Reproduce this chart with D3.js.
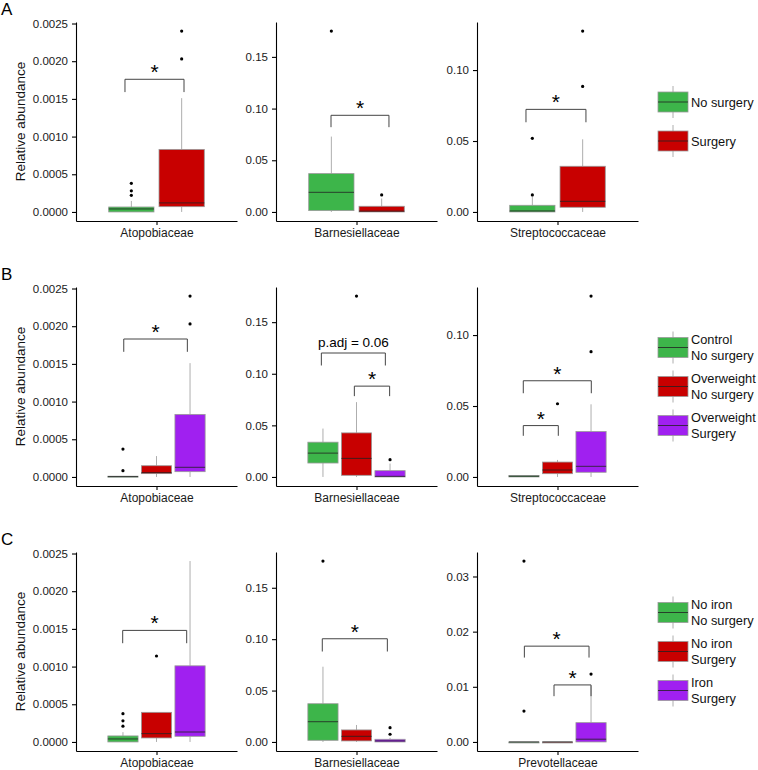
<!DOCTYPE html>
<html>
<head>
<meta charset="utf-8">
<script src="https://cdn.jsdelivr.net/npm/d3@7"></script>
<style>
  body { margin: 0; background: #fff; }
  svg { display: block; font-family: "Liberation Sans", Arial, sans-serif; }
  .axis path, .axis line { stroke: #000; stroke-width: 1.1px; }
  .axis text { fill: #1a1a1a; font-size: 11.5px; }
  .whisker, .box { stroke: #999; stroke-width: 0.8px; }
  .median { stroke: #222; stroke-opacity: 0.8; stroke-width: 1px; }
  .bracket { fill: none; stroke: #444; stroke-width: 1px; }
</style>
</head>
<body>
<svg id="chart" width="758" height="770"></svg>
<script>
// ---- data ----
const panelLetters = ["A", "B", "C"];

const familiesA = ["Atopobiaceae", "Barnesiellaceae", "Streptococcaceae"];
const familiesB = ["Atopobiaceae", "Barnesiellaceae", "Streptococcaceae"];
const familiesC = ["Atopobiaceae", "Barnesiellaceae", "Prevotellaceae"];

const groupsA = [["No surgery"], ["Surgery"]];
const groupsB = [["Control", "No surgery"], ["Overweight", "No surgery"], ["Overweight", "Surgery"]];
const groupsC = [["No iron", "No surgery"], ["No iron", "Surgery"], ["Iron", "Surgery"]];

const colors = ["#3db54a", "#c80000", "#a020f0"];

// box stats per family, per group: [lower whisker, q1, median, q3, upper whisker]
const boxesA = [
  [[0, 0, 0.00004, 0.000066, 0.000146], [0, 0.00007, 0.00012, 0.00083, 0.00151]],
  [[0, 0.0013, 0.019, 0.0371, 0.0729], [0, 0, 0.0008, 0.0055, 0.013]],
  [[0, 0, 0.0007, 0.0047, 0.011], [0, 0.0033, 0.0075, 0.0322, 0.0512]]
];
const outliersA = [
  [[0.00022, 0.00028, 0.00038], [0.00203, 0.0024]],
  [[0.175], [0.0165]],
  [[0.012, 0.0519], [0.0885, 0.1275]]
];
// brackets: [x start, x end (category units), top y, end y, label]
const bracketsA = [
  [[0.765, 1.205, 0.00176, 0.00159, "*"]],
  [[0.81, 1.242, 0.0935, 0.082, "*"]],
  [[0.765, 1.212, 0.0723, 0.0632, "*"]]
];

const boxesB = [
  [[0, 0, 0.000005, 0.00001, 0.00001], [0, 0.000044, 0.000057, 0.000149, 0.000277], [0, 0.00007, 0.000128, 0.00083, 0.00151]],
  [[0, 0.0135, 0.0231, 0.0337, 0.0469], [0, 0.0016, 0.018, 0.0427, 0.0725], [0, 0, 0.0006, 0.0061, 0.013]],
  [[0, 0, 0.0005, 0.001, 0.001], [0, 0.0023, 0.0049, 0.0105, 0.012], [0, 0.0033, 0.0075, 0.032, 0.0512]]
];
const outliersB = [
  [[0.000083, 0.00037], [], [0.00203, 0.0024]],
  [[], [0.1753], [0.0167]],
  [[], [0.0516], [0.0883, 0.1275]]
];
const bracketsB = [
  [[0.756, 1.23, 0.00183, 0.00166, "*"]],
  [[0.738, 1.215, 0.1201, 0.108, "p.adj = 0.06"], [0.984, 1.247, 0.088, 0.0783, "*"]],
  [[0.745, 1.252, 0.0678, 0.059, "*"], [0.745, 1.006, 0.0362, 0.029, "*"]]
];

const boxesC = [
  [[0, 0, 0.00004, 0.00008, 0.00013], [0, 0.000053, 0.00011, 0.000393, 0.000393], [0, 0.000075, 0.000132, 0.00101, 0.0024]],
  [[0, 0.0016, 0.0197, 0.0372, 0.0732], [0, 0.001, 0.0055, 0.0117, 0.0165], [0, 0, 0.001, 0.0026, 0.004]],
  [[0, 0, 0, 0, 0], [0, 0, 0, 0, 0], [0, 0, 0.0005, 0.0035, 0.0102]]
];
const outliersC = [
  [[0.00021, 0.00028, 0.000375], [0.00114], []],
  [[0.176], [], [0.0075, 0.0139]],
  [[0.0056, 0.0328], [], [0.0123]]
];
const bracketsC = [
  [[0.748, 1.225, 0.00148, 0.00131, "*"]],
  [[0.745, 1.23, 0.1004, 0.088, "*"]],
  [[0.753, 1.235, 0.01737, 0.0153, "*"], [0.974, 1.25, 0.01034, 0.0083, "*"]]
];

const ticksAB = [[0, 0.0005, 0.001, 0.0015, 0.002, 0.0025], [0, 0.05, 0.1, 0.15], [0, 0.05, 0.1]];
const ticksC = [[0, 0.0005, 0.001, 0.0015, 0.002, 0.0025], [0, 0.05, 0.1, 0.15], [0, 0.01, 0.02, 0.03]];

const panels = [
  { families: familiesA, groups: groupsA, boxes: boxesA, outliers: outliersA, brackets: bracketsA, ticks: ticksAB },
  { families: familiesB, groups: groupsB, boxes: boxesB, outliers: outliersB, brackets: bracketsB, ticks: ticksAB },
  { families: familiesC, groups: groupsC, boxes: boxesC, outliers: outliersC, brackets: bracketsC, ticks: ticksC }
];

// ---- layout ----
const rowTop = [22, 287, 552];
const plotH = 199;
const plotLeft = [76, 276, 477];
const plotW = 161;

const svg = d3.select("#chart");

panels.forEach((p, r) => {
  const top = rowTop[r];
  const n = p.groups.length;
  const dodge = 0.75 / n;
  const bw = 0.9 * dodge;

  svg.append("text")
    .attr("x", 1)
    .attr("y", top - 7)
    .style("font-size", "17px")
    .text(panelLetters[r]);

  svg.append("text")
    .attr("transform", `translate(25,${top + plotH / 2}) rotate(-90)`)
    .attr("text-anchor", "middle")
    .style("font-size", "13.5px")
    .style("fill", "#111")
    .text("Relative abundance");

  p.families.forEach((fam, c) => {
    const left = plotLeft[c];
    const boxes = p.boxes[c];
    const outs = p.outliers[c];
    const maxV = d3.max([...boxes.map((b) => b[4]), ...outs.flat()]);
    const minV = d3.min(boxes.map((b) => b[0]));
    const pad = 0.05 * (maxV - minV);

    const x = d3.scaleLinear().domain([0.4, 1.6]).range([left, left + plotW]);
    const y = d3.scaleLinear().domain([minV - pad, maxV + pad]).range([top + plotH, top]);
    const fmt = maxV < 0.01 ? d3.format(".4f") : d3.format(".2f");

    const g = svg.append("g");

    g.append("g")
      .attr("class", "axis")
      .attr("transform", `translate(${left},0)`)
      .call(d3.axisLeft(y).tickValues(p.ticks[c]).tickFormat(fmt).tickSize(4).tickPadding(4).tickSizeOuter(0));

    g.append("g")
      .attr("class", "axis")
      .attr("transform", `translate(0,${top + plotH})`)
      .call(d3.axisBottom(x).tickValues([1]).tickFormat(() => fam).tickSize(4).tickPadding(3).tickSizeOuter(0))
      .selectAll("text").style("font-size", "12px");

    boxes.forEach((b, i) => {
      const cx = 1 + (i - (n - 1) / 2) * dodge;
      const gx = x(cx);
      g.append("line").attr("class", "whisker")
        .attr("x1", gx).attr("x2", gx).attr("y1", y(b[3])).attr("y2", y(b[4]));
      g.append("line").attr("class", "whisker")
        .attr("x1", gx).attr("x2", gx).attr("y1", y(b[1])).attr("y2", y(b[0]));
      g.append("rect").attr("class", "box")
        .attr("x", x(cx - bw / 2))
        .attr("width", x(cx + bw / 2) - x(cx - bw / 2))
        .attr("y", y(b[3]))
        .attr("height", Math.max(1, y(b[1]) - y(b[3])))
        .attr("fill", colors[i]);
      g.append("line").attr("class", "median")
        .attr("x1", x(cx - bw / 2)).attr("x2", x(cx + bw / 2))
        .attr("y1", y(b[2])).attr("y2", y(b[2]));
      g.selectAll(null)
        .data(outs[i])
        .enter()
        .append("circle")
        .attr("cx", gx)
        .attr("cy", (d) => y(d))
        .attr("r", 1.6)
        .attr("fill", "#000");
    });

    p.brackets[c].forEach((br) => {
      const [x1, x2, yt, ye, label] = br;
      g.append("path").attr("class", "bracket")
        .attr("d", `M${x(x1)},${y(ye)}V${y(yt)}H${x(x2)}V${y(ye)}`);
      const star = label === "*";
      g.append("text")
        .attr("x", (x(x1) + x(x2)) / 2)
        .attr("y", y(yt) - (star ? 0 : 6))
        .attr("text-anchor", "middle")
        .style("font-size", star ? "21px" : "13.5px")
        .text(label);
    });
  });

  // legend
  const keyGap = 39;
  const midY = top + plotH / 2;
  const lg = svg.append("g");
  p.groups.forEach((lines, i) => {
    const cy = midY + (i - (n - 1) / 2) * keyGap;
    lg.append("line").attr("class", "whisker")
      .attr("x1", 673).attr("x2", 673).attr("y1", cy - 16).attr("y2", cy + 16);
    lg.append("rect").attr("class", "box")
      .attr("x", 658).attr("y", cy - 10).attr("width", 30).attr("height", 20)
      .attr("fill", colors[i]);
    lg.append("line").attr("class", "median")
      .attr("x1", 658).attr("x2", 688).attr("y1", cy).attr("y2", cy);
    const t = lg.append("text").attr("x", 691).style("font-size", "12.8px").style("fill", "#111");
    lines.forEach((ln, k) => {
      t.append("tspan")
        .attr("x", 691)
        .attr("y", cy + 4.5 + (k - (lines.length - 1) / 2) * 16.5)
        .text(ln);
    });
  });
});
</script>
</body>
</html>
